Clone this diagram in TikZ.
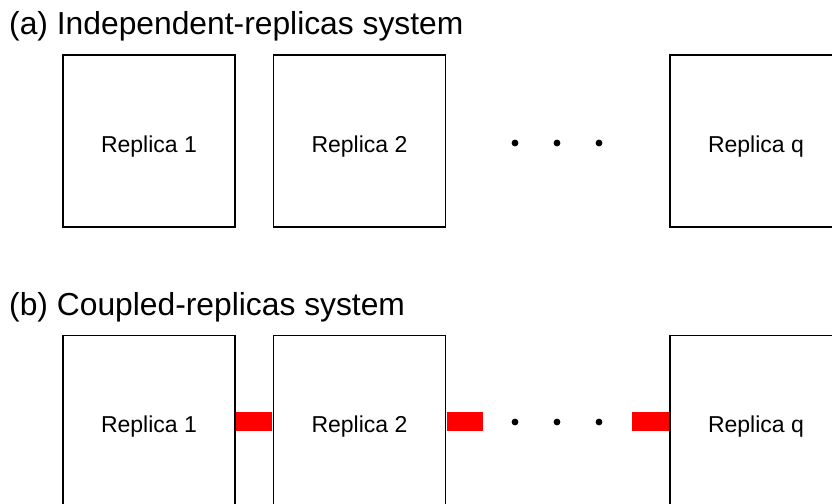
\documentclass[tikz,border=0pt]{standalone}
\usepackage{fontspec}
\setmainfont{Liberation Sans}
\begin{document}
\begin{tikzpicture}[x=1pt,y=-1pt,
  replica/.style={draw=black,line width=1.2pt,minimum width=172pt,minimum height=172pt,inner sep=0pt,text height=22pt,text depth=0pt,font=\fontsize{23}{27}\selectfont},
  title/.style={anchor=base west,inner sep=0pt,font=\fontsize{31.8}{36}\selectfont},
  coupling/.style={draw=red,line width=19pt},
  dotmark/.style={fill=black}]
\clip (0,0) rectangle (832,503);
\fill[white] (0,0) rectangle (832,503);
% (a)
\node[title] (ta) at (9,35) {(a) Independent-replicas system};
\node[replica] (a1) at (149,141) {Replica 1};
\node[replica] (a2) at (359.5,141) {Replica 2};
\node[replica] (aq) at (756,141) {Replica q};
\fill[dotmark] (515,143) circle (3.4);
\fill[dotmark] (557,143) circle (3.4);
\fill[dotmark] (599,143) circle (3.4);
% (b)
\node[title] (tb) at (9,315) {(b) Coupled-replicas system};
\node[replica] (b1) at (149,421.5) {Replica 1};
\node[replica] (b2) at (359.5,421.5) {Replica 2};
\node[replica] (bq) at (756,421.5) {Replica q};
\coordinate (c2end) at (483,421.5);
\coordinate (c3start) at (632,421.5);
\draw[coupling] ([xshift=0.6pt]b1.east) -- ([xshift=-0.6pt]b2.west);
\draw[coupling] ([xshift=0.6pt]b2.east) -- (c2end);
\draw[coupling] (c3start) -- ([xshift=-0.6pt]bq.west);
\fill[dotmark] (515,422) circle (3.4);
\fill[dotmark] (557,422) circle (3.4);
\fill[dotmark] (599,422) circle (3.4);
\end{tikzpicture}
\end{document}
